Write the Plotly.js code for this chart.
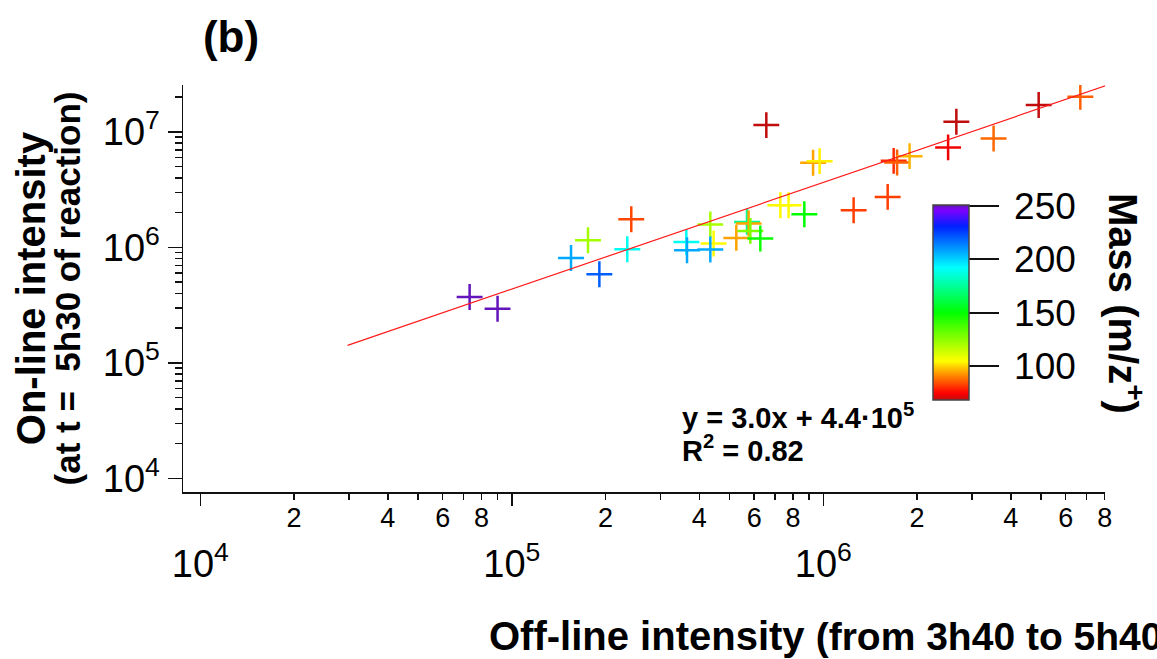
<!DOCTYPE html>
<html>
<head>
<meta charset="utf-8">
<script src="https://cdn.plot.ly/plotly-3.0.1.min.js"></script>
<style>html,body{margin:0;padding:0;background:#fff;}#chart{width:1157px;height:659px;}</style>
</head>
<body>
<div id="chart"></div>
<script>
// Off-line intensity (x) and on-line intensity (y) for each ion, plus its mass (m/z)
var offline = [7.32e4, 9.00e4, 1.549e5, 1.91e5, 1.756e5, 2.418e5, 2.348e5, 3.633e5, 3.651e5, 4.337e5,
               4.444e5, 4.337e5, 5.256e5, 5.689e5, 5.757e5, 5.831e5, 6.277e5, 7.278e5, 7.736e5, 8.69e5,
               1.251e6, 1.609e6, 1.682e6, 1.725e6, 1.892e6, 2.515e6, 2.673e6, 3.52e6, 4.912e6, 6.683e6,
               6.561e5, 9.27e5, 9.73e5];
var online  = [3.72e5, 2.95e5, 8.11e5, 5.86e5, 1.154e6, 1.755e6, 9.65e5, 1.116e6, 9.46e5, 1.579e6,
               1.081e6, 9.59e5, 1.209e6, 1.663e6, 1.611e6, 1.390e6, 1.195e6, 2.321e6, 2.321e6, 1.940e6,
               2.101e6, 2.739e6, 5.617e6, 5.44e6, 6.17e6, 7.34e6, 1.223e7, 8.78e6, 1.707e7, 2.015e7,
               1.145e7, 5.40e6, 5.58e6];
var mass    = [250, 250, 207, 220, 121, 83, 190, 190, 207, 120,
               104, 207, 94, 173, 94, 127, 148, 104, 104, 150,
               82, 82, 80, 86, 96, 73, 66, 87, 66, 86,
               66, 94, 103];
// Fitted line end points
var fitX = [2.97e4, 8.17e6];
var fitY = [1.42e5, 2.54e7];
// Axis ticks
var decadesX = [1e4, 1e5, 1e6];
var decadeLabelsX = ['10<sup>4</sup>', '10<sup>5</sup>', '10<sup>6</sup>'];
var decadesY = [1e4, 1e5, 1e6, 1e7];
var decadeLabelsY = ['10<sup>4</sup>', '10<sup>5</sup>', '10<sup>6</sup>', '10<sup>7</sup>'];
var minorDigits = [2, 3, 4, 5, 6, 7, 8, 9];
var labelledDigits = [2, 4, 6, 8];
var massTicks = [100, 150, 200, 250];
var massTickText = ['100', '150', '200', '250'];

var minorX = [], labelX = [], labelXText = [];
decadesX.forEach(function (d) {
  minorDigits.forEach(function (k) { minorX.push(k * d); });
  labelledDigits.forEach(function (k) { labelX.push(k * d); labelXText.push(String(k)); });
});
var minorY = [];
decadesY.forEach(function (d) { minorDigits.forEach(function (k) { minorY.push(k * d); }); });

var FONT = 'Liberation Sans, Arial, sans-serif';
var W = 1157, H = 659;
var L = 183, R = 52, T = 85, B = 167;
var pw = W - L - R, ph = H - T - B;
function px2paperX(p) { return (p - L) / pw; }
function px2paperY(p) { return (H - B - p) / ph; }

var xr = [Math.log10(8.8e3), Math.log10(8.02e6)];
var yr = [3.883, 7.406];

var CSCALE = [[0, '#c00c0c'], [0.035, '#ff0000'], [0.12, '#ff8000'], [0.2, '#ffff00'],
              [0.448, '#00ff00'], [0.678, '#00ffff'], [0.89, '#0020ff'], [0.975, '#8000ff'], [1, '#5c1aa8']];

var traces = [
  {
    type: 'scatter', mode: 'markers', x: offline, y: online,
    marker: {
      symbol: 'cross-thin', size: 18.5,
      color: mass, cmin: 68, cmax: 251, colorscale: CSCALE,
      line: { width: 2.5, color: mass, cmin: 68, cmax: 251, colorscale: CSCALE },
      showscale: true,
      colorbar: {
        thickness: 36, thicknessmode: 'pixels',
        len: 195, lenmode: 'pixels',
        x: px2paperX(933), xanchor: 'left', xpad: 0,
        y: px2paperY(400), yanchor: 'bottom', ypad: 0,
        outlinewidth: 1.5, outlinecolor: '#444',
        ticks: 'outside', ticklen: 30, tickwidth: 2, tickcolor: '#111',
        tickmode: 'array', tickvals: massTicks,
        ticktext: massTickText.map(function (t) { return '\u2009' + t; }),
        tickfont: { family: FONT, size: 37, color: '#000' },
        borderwidth: 0
      }
    },
    hoverinfo: 'skip', showlegend: false
  },
  {
    type: 'scatter', mode: 'lines', x: fitX, y: fitY,
    line: { color: '#ff1a1a', width: 1.2 },
    hoverinfo: 'skip', showlegend: false
  },
  { type: 'scatter', mode: 'markers', x: [], y: [], xaxis: 'x2', yaxis: 'y', showlegend: false, hoverinfo: 'skip' }
];

var layout = {
  width: W, height: H,
  margin: { l: L, r: R, t: T, b: B, autoexpand: false },
  paper_bgcolor: '#fff', plot_bgcolor: '#fff',
  font: { family: FONT, color: '#000' },
  showlegend: false,
  title: {
    text: '<b>(b)</b>', font: { family: FONT, size: 44, color: '#000' },
    x: 231 / W, xref: 'container', xanchor: 'center',
    y: 1 - 37 / H, yref: 'container', yanchor: 'middle'
  },
  xaxis: {
    type: 'log', range: xr,
    showline: true, linecolor: '#111', linewidth: 1.5,
    showgrid: false, zeroline: false,
    tickvals: decadesX, ticktext: decadeLabelsX,
    ticks: 'outside', ticklen: 12, tickwidth: 1.5, tickcolor: '#111',
    ticklabelstandoff: 26,
    tickfont: { family: FONT, size: 38, color: '#000' },
    minor: { tickvals: minorX, ticks: 'outside', ticklen: 6, tickwidth: 1.5, tickcolor: '#111', showgrid: false }
  },
  xaxis2: {
    type: 'log', range: xr, overlaying: 'x', anchor: 'y', side: 'bottom',
    showline: false, showgrid: false, zeroline: false,
    tickvals: labelX, ticktext: labelXText,
    ticks: 'outside', ticklen: 2, tickwidth: 1.5, tickcolor: '#111',
    tickfont: { family: FONT, size: 27, color: '#000' }
  },
  yaxis: {
    type: 'log', range: yr,
    showline: true, linecolor: '#111', linewidth: 1.5,
    showgrid: false, zeroline: false,
    tickvals: decadesY, ticktext: decadeLabelsY,
    ticks: 'outside', ticklen: 14, tickwidth: 1.5, tickcolor: '#111',
    tickfont: { family: FONT, size: 38, color: '#000' },
    minor: { tickvals: minorY, ticks: 'outside', ticklen: 7, tickwidth: 1.5, tickcolor: '#111', showgrid: false },
    title: {
      text: "<b><span style='font-size:40px'>On-line intensity</span><br><span style='font-size:35px'>(at t =\u00a0 5h30 of reaction)</span></b>",
      font: { family: FONT, size: 27, color: '#000' },
      standoff: 14
    }
  },
  annotations: [
    {
      xref: 'paper', yref: 'paper', x: px2paperX(487), y: px2paperY(636),
      xanchor: 'left', yanchor: 'middle', showarrow: false,
      text: "<b>Off-line intensity <span style='font-size:39px'>(from 3h40 to 5h40</span></b>",
      font: { family: FONT, size: 40, color: '#000' }
    },
    {
      xref: 'paper', yref: 'paper', x: px2paperX(680), y: px2paperY(432),
      xanchor: 'left', yanchor: 'middle', align: 'left', showarrow: false,
      text: "<b><span style='font-size:29px'>y = 3.0x + 4.4\u00b710<sup>5</sup></span><br><span style='font-size:29px'>R<sup>2</sup> = 0.82</span></b>",
      font: { family: FONT, size: 25, color: '#000' }
    },
    {
      xref: 'paper', yref: 'paper', x: px2paperX(1126), y: px2paperY(303),
      xanchor: 'center', yanchor: 'middle', showarrow: false, textangle: 90,
      text: '<b>Mass (m/z<sup>+</sup>)</b>',
      font: { family: FONT, size: 40, color: '#000' }
    }
  ]
};

Plotly.newPlot('chart', traces, layout, { displayModeBar: false, staticPlot: true });
</script>
</body>
</html>
